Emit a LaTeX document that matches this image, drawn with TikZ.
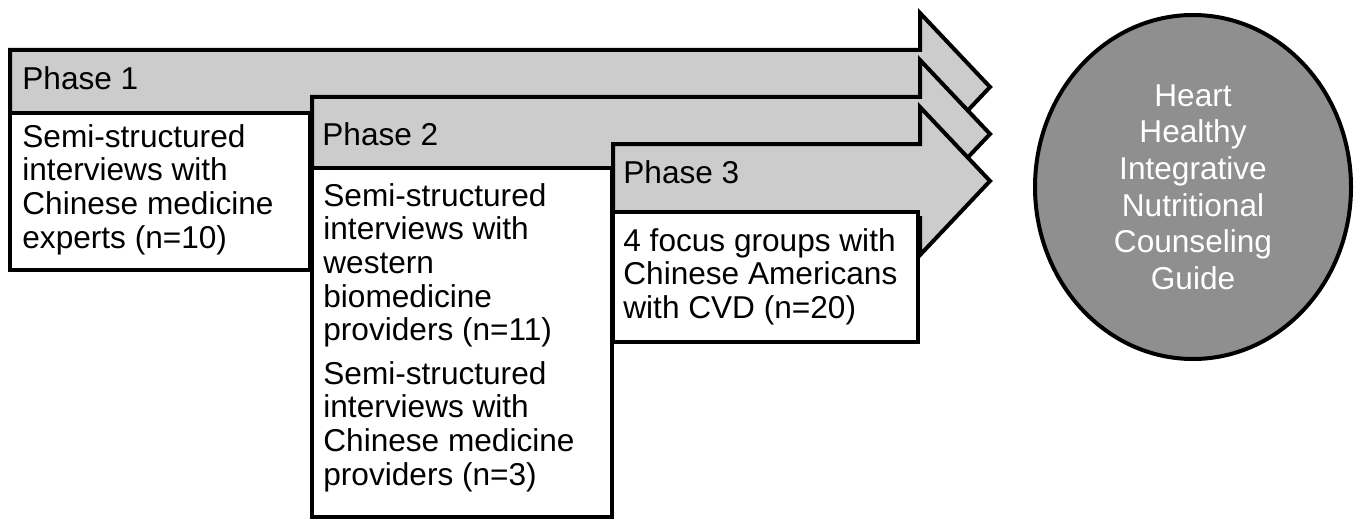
\documentclass[tikz,border=0pt]{standalone}
\usepackage{fontspec}
\setmainfont{Liberation Sans}
\usetikzlibrary{shapes.geometric}
\definecolor{phasefill}{HTML}{CCCCCC}
\definecolor{guidefill}{HTML}{8F8F8F}
\begin{document}
\begin{tikzpicture}[
    x=0.5pt, y=-0.5pt,
    font=\fontsize{15.8}{16.8}\selectfont,
    %% Šípka fázy
    phasearrow/.style={draw=black, line width=2pt, fill=phasefill, line join=miter},
    %% Biely box s popisom
    phasebox/.style={draw=black, line width=2pt, fill=white},
    %% Nadpis fázy
    phaselbl/.style={anchor=base west, inner sep=0pt},
    %% Text v boxe
    boxtxt/.style={anchor=north west, align=left, inner sep=0pt},
    %% Výsledný sprievodca
    guide/.style={
        ellipse, draw=black, line width=2pt, fill=guidefill,
        minimum width=158pt, minimum height=172pt, inner sep=0pt,
        text=white, align=center,
        font=\fontsize{15.8}{18.3}\selectfont
    }
]
\useasboundingbox (0,0) rectangle (1359,519);

%% ══════════════════════════════════════════════════════════════════
%% Šípky a boxy troch fáz (x0, horná hrana, pravý okraj boxu, boxy)
%% ══════════════════════════════════════════════════════════════════
\foreach \xa/\ya/\xb/\yb/\yc in {10/50/310/113/270,
                                 312/97/612/168/517,
                                 613/144/918/212/342} {
    \draw[phasearrow] (\xa,\ya) -- (920,\ya) -- (920,{\ya-37})
        -- (990,{\ya+37}) -- (920,{\ya+111}) -- (920,{\ya+74})
        -- (\xa,{\ya+74}) -- cycle;
    \draw[phasebox] (\xa,\yb) rectangle (\xb,\yc);
}

%% Nadpisy fáz
\node[phaselbl] (p1) at (22,90)  {Phase 1};
\node[phaselbl] (p2) at (322,145) {Phase 2};
\node[phaselbl] (p3) at (623,183) {Phase 3};

%% Popisy v boxoch
\node[boxtxt] (t1) at (22,124)
    {Semi-structured\\interviews with\\Chinese medicine\\experts (n=10)};
\node[boxtxt] (t2a) at (323,183)
    {Semi-structured\\interviews with\\western\\biomedicine\\providers (n=11)};
\node[boxtxt] (t2b) at (323,361)
    {Semi-structured\\interviews with\\Chinese medicine\\providers (n=3)};
\node[boxtxt] (t3) at (623,228)
    {4 focus groups with\\Chinese Americans\\with CVD (n=20)};

%% ══════════════════════════════════════════════════════════════════
%% Výsledok
%% ══════════════════════════════════════════════════════════════════
\node[guide] (hg) at (1193,187)
    {Heart\\Healthy\\Integrative\\Nutritional\\Counseling\\Guide};

\end{tikzpicture}
\end{document}
